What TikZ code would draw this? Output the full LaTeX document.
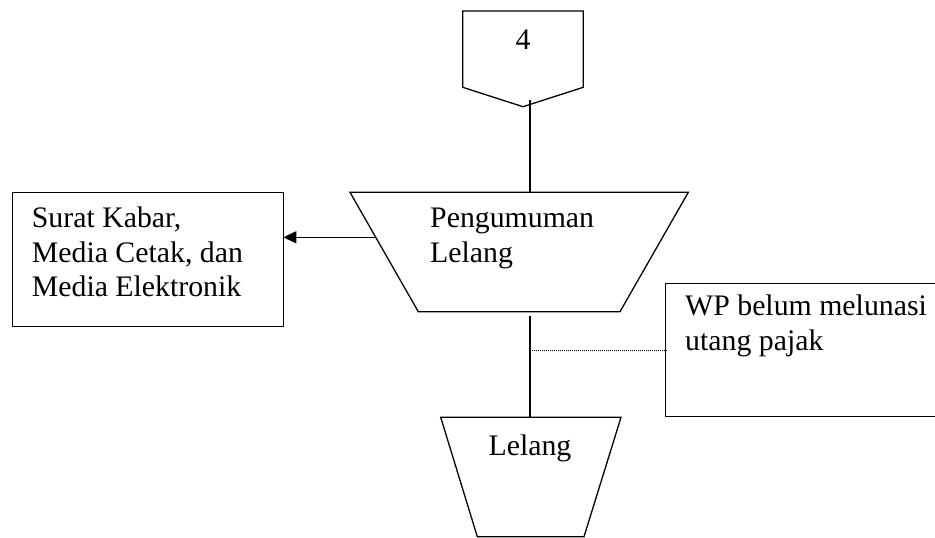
\documentclass[tikz,border=0pt]{standalone}
\usepackage{fontspec}
\setmainfont{Liberation Serif}
\usetikzlibrary{arrows.meta}
\begin{document}
\begin{tikzpicture}[x=1pt,y=-1pt,
  outline/.style={draw=black,line width=1.3pt,line join=miter},
  flow/.style={draw=black,line width=1.3pt},
  note/.style={draw=black,line width=1pt,dash pattern=on 1pt off 1pt},
  label text/.style={inner sep=0pt,align=left,font=\fontsize{29.8}{34.5}\selectfont}]
\useasboundingbox (0,0) rectangle (935,538);

% off-page connector
\draw[outline] (462.7,11) -- (583.3,11) -- (583.3,87.3) -- (523,106.7) -- (462.7,87.3) -- cycle;
\node[label text,anchor=base] (pagenum) at (523,49.3) {4};

% manual operation: announcement (anchored on the last line's baseline)
\draw[outline] (350,192.3) -- (688.3,192.3) -- (620,311.7) -- (418.3,311.7) -- cycle;
\node[label text,anchor=base west] (pengumuman) at (430,262) {Pengumuman\\Lelang};

% media box
\draw[outline] (12.3,192.3) rectangle (283.3,326.7);
\node[label text,anchor=base west] (media) at (31.7,296.5) {Surat Kabar,\\Media Cetak, dan\\Media Elektronik};

% annotation
\draw[outline] (960,283.3) -- (665.7,283.3) -- (665.7,416.7) -- (960,416.7);
\node[label text,anchor=base west] (wp) at (685,350) {WP belum melunasi\\utang pajak};

% manual operation: auction
\draw[outline] (440.7,417.3) -- (621,417.3) -- (584,536.7) -- (477.3,536.7) -- cycle;
\node[label text,anchor=base] (lelang) at (530,455) {Lelang};

% connection points
\coordinate (off-tip) at (530,100);
\coordinate (peng-top) at (530,192.3);
\coordinate (peng-left) at (375.7,237.3);
\coordinate (media-right) at (283.3,237.3);
\coordinate (peng-bot) at (530,316);
\coordinate (lelang-top) at (530,417.3);
\coordinate (tap) at (531.5,350);
\coordinate (wp-left) at (665.7,350);

% connectors
\draw[flow] (off-tip) -- (peng-top);
\draw[flow,-{Triangle[length=13pt,width=12pt]}] (peng-left) -- (media-right);
\draw[flow] (peng-bot) -- (lelang-top);
\draw[note] (tap) -- (wp-left);
\end{tikzpicture}
\end{document}
